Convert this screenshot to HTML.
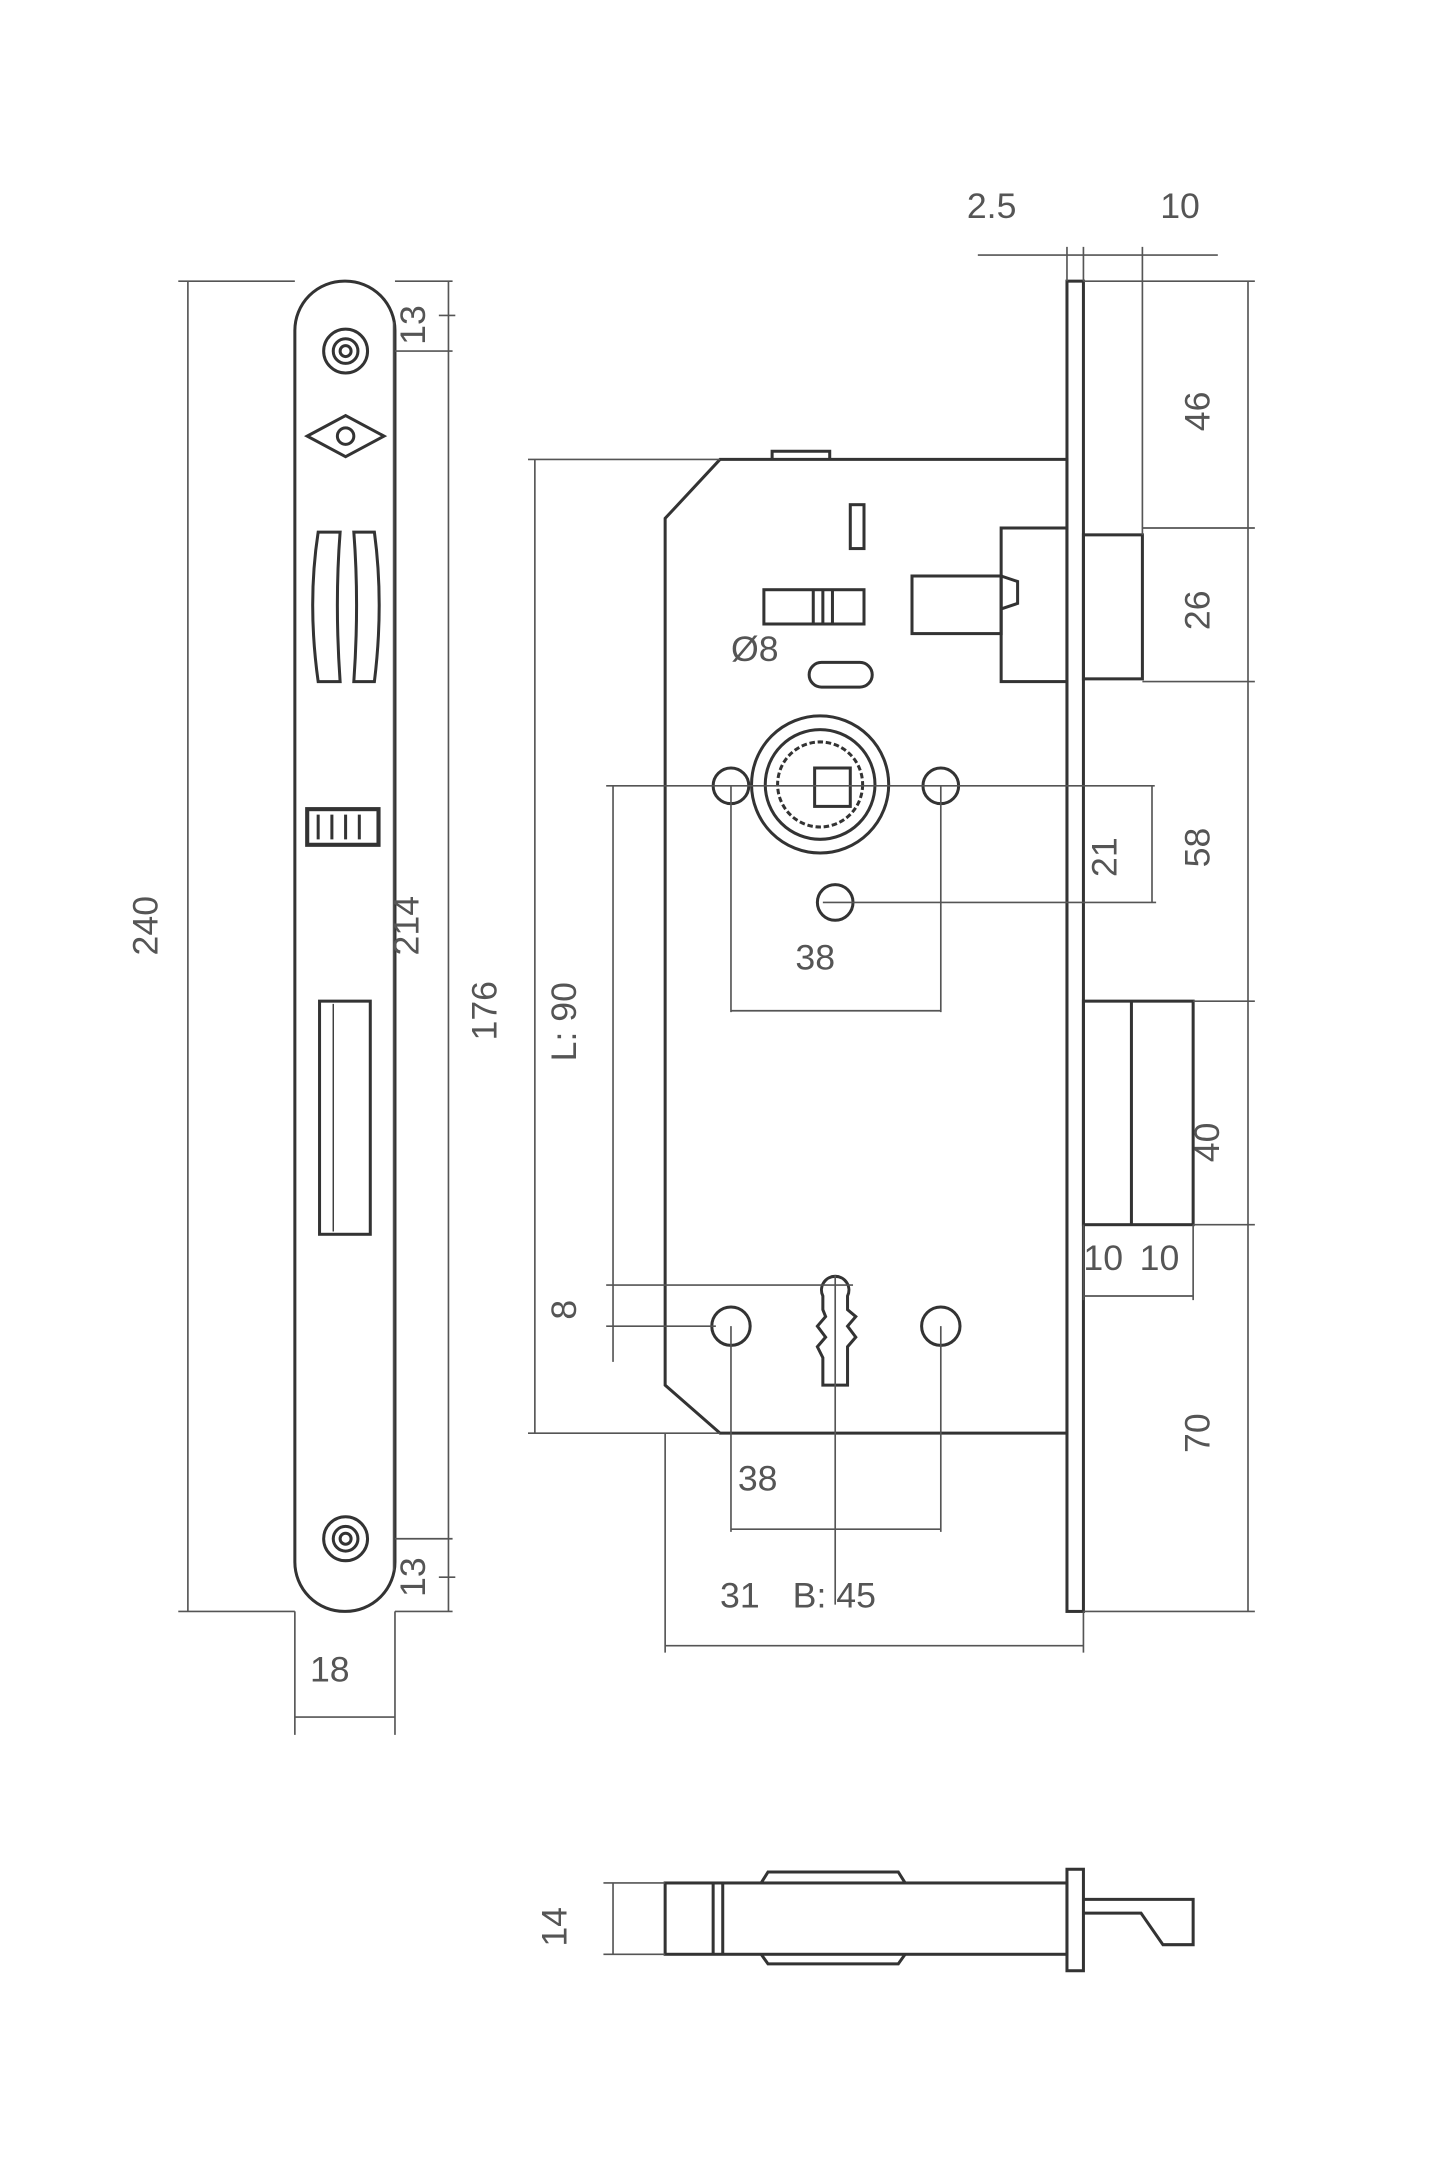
<!DOCTYPE html>
<html><head><meta charset="utf-8"><style>
html,body{margin:0;padding:0;background:#fff;}
svg{display:block;}
text{font-family:"Liberation Sans",sans-serif;font-size:26px;fill:#555;}
</style></head><body>
<svg width="1440" height="2160" viewBox="0 0 1050 1575" xmlns="http://www.w3.org/2000/svg">
<g fill="none" stroke="#333" stroke-width="2.2">
<!-- faceplate -->
<rect x="215" y="205" width="73" height="970" rx="36"/>
<circle cx="252" cy="256" r="16"/><circle cx="252" cy="256" r="9"/><circle cx="252" cy="256" r="4"/>
<circle cx="252" cy="1122" r="16"/><circle cx="252" cy="1122" r="9"/><circle cx="252" cy="1122" r="4"/>
<path d="M224 318 L252 303 L280 318 L252 333 Z"/><circle cx="252" cy="318" r="6"/>
<path d="M232 388 L248 388 Q244 440 248 497 L232 497 Q224 440 232 388 Z"/>
<path d="M258 388 L273 388 Q280 440 273 497 L258 497 Q262 440 258 388 Z"/>
<rect x="224" y="590" width="52" height="26" stroke-width="3"/>
<path d="M232 594v18M242 594v18M252 594v18M262 594v18"/>
<rect x="233" y="730" width="37" height="170"/>
<path d="M243 732v166" stroke-width="1"/>
<!-- main body -->
<path d="M525 335 L778 335 L778 1045 L525 1045 L485 1010 L485 378 Z"/>
<path d="M563 335 L563 329 L605 329 L605 335"/>
<rect x="778" y="205" width="12" height="970"/>
<rect x="790" y="390" width="43" height="105"/>
<rect x="730" y="385" width="48" height="112"/>
<rect x="665" y="420" width="65" height="42"/>
<path d="M730 420 L742 424 L742 440 L730 444"/>
<rect x="790" y="730" width="80" height="163"/>
<path d="M825 730v163"/>
<rect x="620" y="368" width="10" height="32"/>
<rect x="557" y="430" width="73" height="25"/>
<path d="M593 430v25M600 430v25M607 430v25"/>
<rect x="590" y="483" width="46" height="18" rx="9"/>
<circle cx="598" cy="572" r="50"/><circle cx="598" cy="572" r="40"/><circle cx="598" cy="572" r="31" stroke-dasharray="4 2"/>
<rect x="594" y="560" width="26" height="28"/>
<circle cx="533" cy="573" r="13"/><circle cx="686" cy="573" r="13"/><circle cx="609" cy="658" r="13"/>
<circle cx="533" cy="967" r="14"/><circle cx="686" cy="967" r="14"/>
<path d="M600 945 A10 10 0 1 1 618 945 L618 955 L624 960 L618 967 L624 975 L618 982 L618 1010 L600 1010 L600 990 L596 982 L602 975 L596 967 L602 960 L600 955 Z"/>
<!-- bottom view -->
<rect x="485" y="1373" width="293" height="52"/>
<path d="M520 1373v52M527 1373v52"/>
<path d="M555 1373 L560 1365 L655 1365 L660 1373 M555 1425 L560 1432 L655 1432 L660 1425"/>
<rect x="778" y="1363" width="12" height="74"/>
<path d="M790 1385 L870 1385 L870 1418 L848 1418 L832 1395 L790 1395"/>
</g>
<g fill="none" stroke="#555" stroke-width="1.2">
<!-- faceplate dims -->
<path d="M137 205v970M130 205h85M130 1175h85"/>
<path d="M287 235v910M327 205v970M288 205h42M288 256h42M288 1122h42M288 1175h42M320 230h12M320 1150h12"/>
<path d="M215 1252h73M215 1175v90M288 1175v90"/>
<!-- body dims -->
<path d="M390 335v710M385 335h140M385 1045h140"/>
<path d="M447 573v420M442 573h400M600 658h243M840 573v85M442 937h180M442 967h80"/>
<path d="M533 573v165M686 573v165M533 737h153"/>
<path d="M533 967v150M686 967v150M609 930v240M533 1115h153"/>
<path d="M485 1045v160M790 1175v30M485 1200h305"/>
<path d="M910 205v970M790 205h125M833 385h82M833 497h82M870 730h45M870 893h45M790 1175h125"/>
<path d="M790 893v55M870 893v55M790 945h80"/>
<path d="M713 186h175M778 180v25M790 180v25M833 180v210"/>
<path d="M447 1373v52M440 1373h45M440 1425h45"/>
</g>
<text x="533" y="482">Ø8</text>
<text x="580" y="707">38</text>
<text x="538" y="1087">38</text>
<text x="525" y="1172">31</text>
<text x="578" y="1172">B: 45</text>
<text x="226" y="1226">18</text>
<text x="705" y="159">2.5</text>
<text x="846" y="159">10</text>
<text x="790" y="926">10</text>
<text x="831" y="926">10</text>
<g>
<text transform="translate(115,675) rotate(-90)" text-anchor="middle">240</text>
<text transform="translate(305,675) rotate(-90)" text-anchor="middle">214</text>
<text transform="translate(362,737) rotate(-90)" text-anchor="middle">176</text>
<text transform="translate(310,237) rotate(-90)" text-anchor="middle">13</text>
<text transform="translate(310,1150) rotate(-90)" text-anchor="middle">13</text>
<text transform="translate(420,745) rotate(-90)" text-anchor="middle">L: 90</text>
<text transform="translate(420,955) rotate(-90)" text-anchor="middle">8</text>
<text transform="translate(814,625) rotate(-90)" text-anchor="middle">21</text>
<text transform="translate(882,300) rotate(-90)" text-anchor="middle">46</text>
<text transform="translate(882,445) rotate(-90)" text-anchor="middle">26</text>
<text transform="translate(882,618) rotate(-90)" text-anchor="middle">58</text>
<text transform="translate(889,833) rotate(-90)" text-anchor="middle">40</text>
<text transform="translate(882,1045) rotate(-90)" text-anchor="middle">70</text>
<text transform="translate(413,1405) rotate(-90)" text-anchor="middle">14</text>
</g>
</svg>
</body></html>
